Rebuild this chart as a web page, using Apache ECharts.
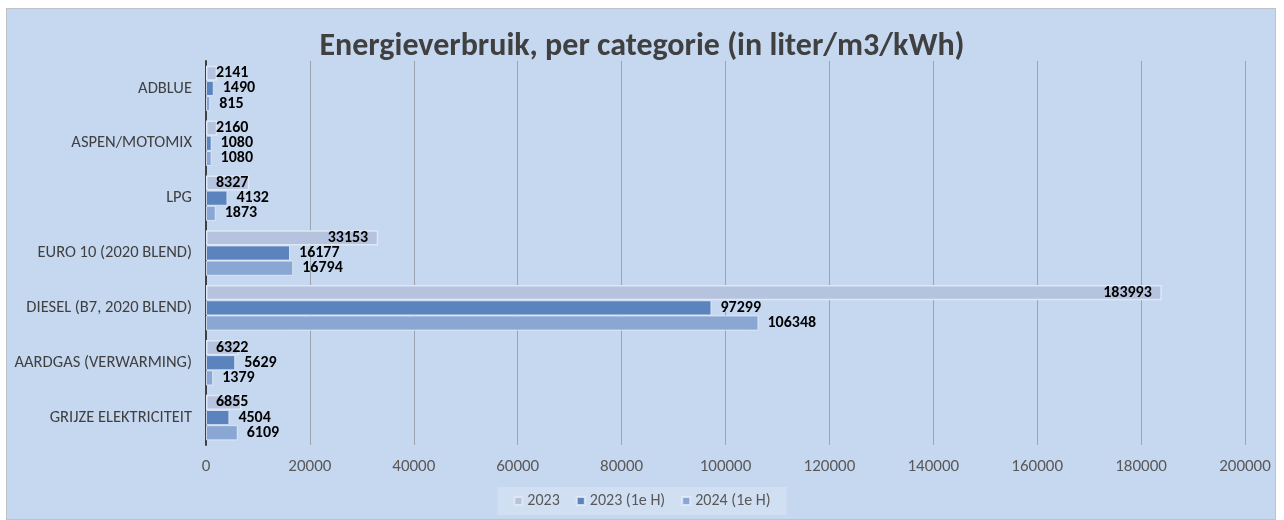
<!DOCTYPE html>
<html>
<head>
<meta charset="utf-8">
<script src="https://cdn.jsdelivr.net/npm/echarts@6/dist/echarts.min.js"></script>
<style>
html,body{margin:0;padding:0;background:#ffffff;}
#bg{position:absolute;left:6px;top:8px;width:1270px;height:512px;background:#c6d8f0;border:1px solid #bfc3c9;box-sizing:border-box;}
#chart{position:absolute;left:0;top:0;width:1284px;height:520px;}
</style>
</head>
<body>
<div id="bg"></div>
<div id="chart"></div>
<script>
const titleText = 'Energieverbruik, per categorie (in liter/m3/kWh)';
const categories = ['ADBLUE', 'ASPEN/MOTOMIX', 'LPG', 'EURO 10 (2020 BLEND)', 'DIESEL (B7, 2020 BLEND)', 'AARDGAS (VERWARMING)', 'GRIJZE ELEKTRICITEIT'];
const seriesNames = ['2023', '2023 (1e H)', '2024 (1e H)'];
const values2023 = [2141, 2160, 8327, 33153, 183993, 6322, 6855];
const values2023H1 = [1490, 1080, 4132, 16177, 97299, 5629, 4504];
const values2024H1 = [815, 1080, 1873, 16794, 106348, 1379, 6109];
const xTicks = {min: 0, max: 200000, interval: 20000};

const FONT = 'Carlito, Lato, "Open Sans", sans-serif';
const labelStyle = {color: '#000000', fontWeight: 'bold', fontSize: 16, fontFamily: FONT};

const chart = echarts.init(document.getElementById('chart'), null, {renderer: 'canvas'});
chart.setOption({
  backgroundColor: 'transparent',
  animation: false,
  title: {
    text: titleText, left: 'center', top: 26,
    textStyle: {color: '#404040', fontSize: 32, fontWeight: 'bold', fontFamily: FONT}
  },
  legend: {
    bottom: 5, left: 'center',
    data: seriesNames,
    itemWidth: 8, itemHeight: 8, itemGap: 16,
    backgroundColor: 'rgba(255,255,255,0.18)',
    padding: [6, 16, 6, 16],
    textStyle: {color: '#595959', fontSize: 16, fontFamily: FONT},
    icon: 'rect'
  },
  grid: {left: 206, right: 39, top: 61, bottom: 75, containLabel: false},
  xAxis: {
    type: 'value', min: xTicks.min, max: xTicks.max, interval: xTicks.interval,
    axisLine: {show: false}, axisTick: {show: false},
    axisLabel: {color: '#595959', fontSize: 17, margin: 13, fontFamily: FONT, formatter: v => String(v)},
    splitLine: {show: true, lineStyle: {color: '#9aa3b0', width: 1}}
  },
  yAxis: {
    type: 'category', inverse: true, data: categories,
    axisLine: {show: true, lineStyle: {color: '#404040', width: 2}},
    axisTick: {show: false},
    axisLabel: {color: '#404040', fontSize: 16.5, margin: 14, fontFamily: FONT}
  },
  series: [
    {
      name: seriesNames[0], type: 'bar', barGap: '0%', barCategoryGap: '17%',
      itemStyle: {color: '#b5c3de', borderColor: '#dfe7f4', borderWidth: 1.5},
      label: Object.assign({show: true, position: 'insideRight', distance: 8}, labelStyle),
      data: values2023.map(v => ({value: v, label: {position: v < 15000 ? 'insideLeft' : 'insideRight', distance: 10}}))
    },
    {
      name: seriesNames[1], type: 'bar', barGap: '0%', barCategoryGap: '17%',
      itemStyle: {color: '#5b83bd', borderColor: 'rgba(230,238,250,0.8)', borderWidth: 1},
      label: Object.assign({show: true, position: 'right', distance: 9}, labelStyle),
      data: values2023H1
    },
    {
      name: seriesNames[2], type: 'bar', barGap: '0%', barCategoryGap: '17%',
      itemStyle: {color: '#8aa6d2', borderColor: 'rgba(230,238,250,0.8)', borderWidth: 1},
      label: Object.assign({show: true, position: 'right', distance: 9}, labelStyle),
      data: values2024H1
    }
  ]
});
</script>
</body>
</html>
